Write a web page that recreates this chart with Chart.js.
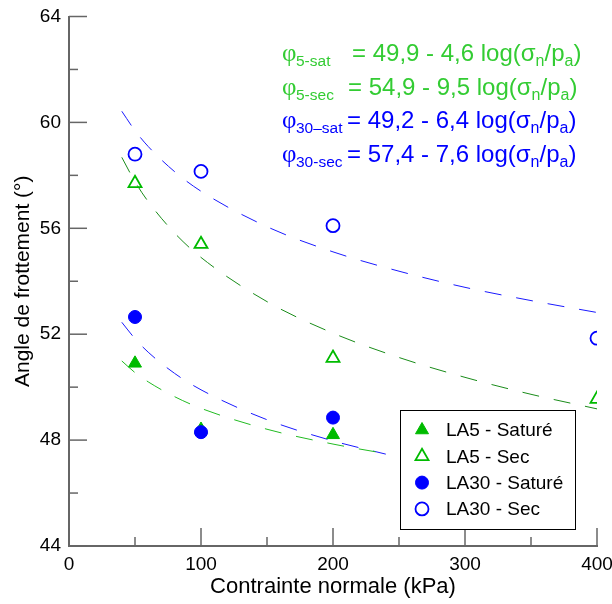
<!DOCTYPE html>
<html>
<head>
<meta charset="utf-8">
<script src="https://cdn.jsdelivr.net/npm/chart.js@4.4.1/dist/chart.umd.min.js"></script>
<style>
  html, body { margin: 0; padding: 0; background: #fff; }
  #wrap { width: 612px; height: 604px; }
</style>
</head>
<body>
<div id="wrap"><canvas id="frottChart" width="612" height="604"></canvas></div>
<script>
// essais de cisaillement, contrainte normale en kPa
const pressures = [50, 100, 200, 400]
const la5Sature = [50.9, 48.4, 48.2]
const la5Sec = [57.7, 55.4, 51.1, 49.55]
const la30Sature = [52.65, 48.3, 48.85]
const la30Sec = [58.8, 58.15, 56.1, 51.85]

// courbes d'ajustement
const fitX = [40, 50, 60, 80, 100, 150, 200, 250, 300, 350, 400]
const fitLa5Sec = [58.68, 57.76, 57.01, 55.82, 54.9, 53.23, 52.04, 51.12, 50.37, 49.73, 49.18]
const fitLa30Sec = [60.42, 59.69, 59.09, 58.14, 57.4, 56.06, 55.11, 54.38, 53.77, 53.27, 52.82]
const fitXSat = [40, 50, 60, 80, 100, 150, 200, 240]
const fitLa5Sat = [50.99, 50.55, 50.2, 49.64, 49.2, 48.41, 47.85, 47.49]
const fitLa30Sat = [52.45, 51.83, 51.32, 50.52, 49.9, 48.77, 47.97, 47.47]

const equations = [
  { sub: '5-sat', rest: '= 49,9 - 4,6 log(', color: '#33cc33', eqX: 352 },
  { sub: '5-sec', rest: '= 54,9 - 9,5 log(', color: '#33cc33', eqX: 348 },
  { sub: '30\u2013sat', rest: '= 49,2 - 6,4 log(', color: '#0000ff', eqX: 347 },
  { sub: '30-sec', rest: '= 57,4 - 7,6 log(', color: '#0000ff', eqX: 347 },
]

const legendItems = [
  { label: 'LA5 - Saturé', shape: 'triangle', fill: true, color: '#00bb00' },
  { label: 'LA5 - Sec', shape: 'triangle', fill: false, color: '#00bb00' },
  { label: 'LA30 - Saturé', shape: 'circle', fill: true, color: '#0000ff' },
  { label: 'LA30 - Sec', shape: 'circle', fill: false, color: '#0000ff' },
]

const FONT = '"Liberation Sans", Arial, sans-serif'
const SERIF = '"Liberation Serif", "Times New Roman", serif'

function pts(xs, ys) {
  return ys.map((y, i) => ({ x: xs[i], y: y }))
}

function fitLine(xs, ys, color, order) {
  return {
    data: pts(xs, ys),
    showLine: true,
    borderColor: color,
    borderWidth: 1,
    borderDash: [17, 15],
    pointRadius: 0,
    cubicInterpolationMode: 'monotone',
    order: order,
  }
}

function marker(ys, shape, fill, color, order) {
  return {
    data: pts(pressures, ys),
    showLine: false,
    pointStyle: shape,
    pointRadius: shape === 'triangle' ? 7.5 : 6.5,
    pointBorderWidth: fill ? 1 : 1.8,
    pointBackgroundColor: fill ? color : 'rgba(0,0,0,0)',
    pointBorderColor: color,
    order: order,
  }
}

function drawShape(ctx, shape, fill, color, x, y) {
  ctx.save()
  ctx.beginPath()
  if (shape === 'circle') {
    ctx.arc(x, y, 6.5, 0, Math.PI * 2)
  } else {
    ctx.moveTo(x, y - 7.5)
    ctx.lineTo(x + 6.5, y + 3.75)
    ctx.lineTo(x - 6.5, y + 3.75)
    ctx.closePath()
  }
  ctx.lineWidth = fill ? 1 : 1.8
  ctx.strokeStyle = color
  if (fill) {
    ctx.fillStyle = color
    ctx.fill()
  }
  ctx.stroke()
  ctx.restore()
}

// petits traits vers l'intérieur, comme sur la figure d'origine
const innerTicks = {
  id: 'innerTicks',
  afterDraw(chart) {
    const ctx = chart.ctx
    const xs = chart.scales.x
    const ys = chart.scales.y
    const a = chart.chartArea
    ctx.save()
    ctx.strokeStyle = '#666'
    ctx.lineWidth = 1.5
    for (let v = 0; v <= 400; v += 50) {
      const px = xs.getPixelForValue(v)
      const len = v % 100 === 0 ? 18 : 9
      ctx.beginPath()
      ctx.moveTo(px, a.bottom)
      ctx.lineTo(px, a.bottom - len)
      ctx.stroke()
    }
    for (let v = 44; v <= 64; v += 2) {
      const py = ys.getPixelForValue(v)
      const len = v % 4 === 0 ? 18 : 9
      ctx.beginPath()
      ctx.moveTo(a.left, py)
      ctx.lineTo(a.left + len, py)
      ctx.stroke()
    }
    ctx.restore()
  },
}

const equationText = {
  id: 'equationText',
  afterDraw(chart) {
    const ctx = chart.ctx
    ctx.save()
    ctx.textBaseline = 'alphabetic'
    ctx.textAlign = 'left'
    equations.forEach((eq, i) => {
      const base = 61 + i * 33.5
      ctx.fillStyle = eq.color
      ctx.font = '25px ' + SERIF
      ctx.fillText('\u03c6', 282, base)
      ctx.font = '15.5px ' + FONT
      ctx.fillText(eq.sub, 296, base + 5)
      let x = eq.eqX
      ctx.font = '24px ' + FONT
      ctx.fillText(eq.rest + '\u03c3', x, base)
      x += ctx.measureText(eq.rest + '\u03c3').width
      ctx.font = '16px ' + FONT
      ctx.fillText('n', x, base + 5)
      x += ctx.measureText('n').width
      ctx.font = '24px ' + FONT
      ctx.fillText('/p', x, base)
      x += ctx.measureText('/p').width
      ctx.font = '16px ' + FONT
      ctx.fillText('a', x, base + 5)
      x += ctx.measureText('a').width
      ctx.font = '24px ' + FONT
      ctx.fillText(')', x, base)
    })
    ctx.restore()
  },
}

const boxLegend = {
  id: 'boxLegend',
  afterDraw(chart) {
    const ctx = chart.ctx
    ctx.save()
    ctx.fillStyle = '#fff'
    ctx.fillRect(400, 410, 175, 119)
    ctx.strokeStyle = '#000'
    ctx.lineWidth = 1
    ctx.strokeRect(400.5, 410.5, 175, 119)
    ctx.font = '19px ' + FONT
    ctx.textBaseline = 'middle'
    legendItems.forEach((it, i) => {
      const y = 430 + i * 26.3
      drawShape(ctx, it.shape, it.fill, it.color, 422, y)
      ctx.fillStyle = '#000'
      ctx.fillText(it.label, 446, y + 1)
    })
    ctx.restore()
  },
}

const config = {
  type: 'scatter',
  data: {
    datasets: [
      marker(la30Sature, 'circle', true, '#0000ff', 1),
      marker(la30Sec, 'circle', false, '#0000ff', 2),
      marker(la5Sature, 'triangle', true, '#00bb00', 3),
      marker(la5Sec, 'triangle', false, '#00bb00', 4),
      fitLine(fitX, fitLa5Sec, '#1a8c1a', 10),
      fitLine(fitX, fitLa30Sec, '#1a1aff', 10),
      fitLine(fitXSat, fitLa5Sat, '#22bb22', 10),
      fitLine(fitXSat, fitLa30Sat, '#1a1aff', 10),
    ],
  },
  options: {
    responsive: false,
    animation: false,
    layout: { padding: { top: 16.5, right: 15, left: 0, bottom: 0 } },
    plugins: {
      legend: { display: false },
      tooltip: { enabled: false },
    },
    scales: {
      x: {
        type: 'linear',
        min: 0,
        max: 400,
        ticks: { stepSize: 100, color: '#000', font: { family: FONT, size: 19 }, padding: 7 },
        grid: { display: false, drawTicks: false },
        border: { display: true, color: '#666', width: 2 },
        title: { display: true, text: 'Contrainte normale (kPa)', color: '#000', font: { family: FONT, size: 22 }, padding: { top: 0, bottom: 4 } },
        afterFit(s) { s.height = 58; s.paddingLeft = 0; s.paddingRight = 0 },
      },
      y: {
        min: 44,
        max: 64,
        ticks: { stepSize: 4, color: '#000', font: { family: FONT, size: 19 }, padding: 8 },
        grid: { display: false, drawTicks: false },
        border: { display: true, color: '#666', width: 2 },
        title: { display: true, text: 'Angle de frottement (°)', color: '#000', font: { family: FONT, size: 21 }, padding: { top: 11, bottom: 0 } },
        afterFit(s) { s.width = 69; s.paddingTop = 0; s.paddingBottom = 0 },
      },
    },
  },
  plugins: [innerTicks, equationText, boxLegend],
}

const canvas = document.getElementById('frottChart')
const chart = new Chart(canvas, config)
</script>
</body>
</html>
